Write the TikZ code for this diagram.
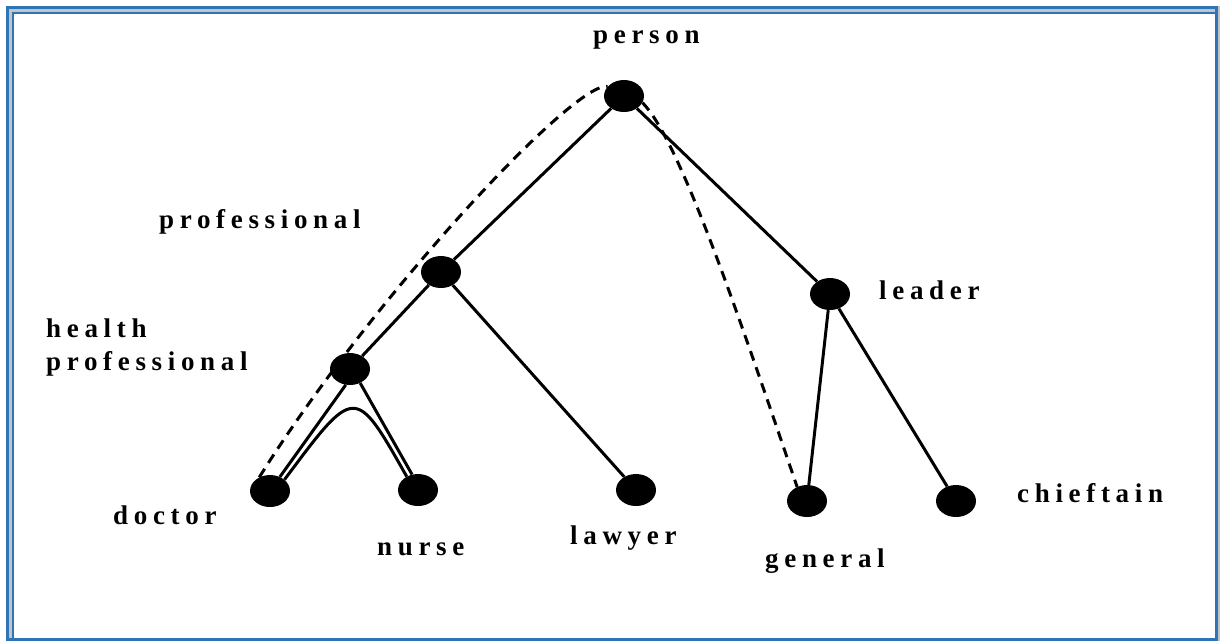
\documentclass[tikz,border=0pt]{standalone}
\usepackage{xcolor}
\usepackage{fontspec}
\usepackage{tikz}
\usetikzlibrary{shapes}
\setmainfont{Liberation Serif}
\newfontfamily\spacedfont[LetterSpace=21]{Liberation Serif}
\definecolor{frameblue}{RGB}{46,116,182}
\definecolor{frameshade}{RGB}{196,196,196}

\begin{document}
\begin{tikzpicture}[x=1pt, y=-1pt]
    \tikzstyle{concept} = [ellipse, fill=black, minimum width=40pt, minimum height=32pt, inner sep=0pt]
    \tikzstyle{isa} = [line width=3pt, black]
    \tikzstyle{chain} = [line width=3pt, black, dash pattern=on 10pt off 7pt]
    \tikzstyle{term} = [anchor=base west, inner sep=0pt, align=left, font=\spacedfont\bfseries\fontsize{27}{33}\selectfont]

    \useasboundingbox (0,0) rectangle (1220,641);
    % frame
    \fill[frameshade] (6,6) rectangle (1220,641);
    \fill[white] (14,14) rectangle (1215,638.5);
    \draw[frameblue, line width=3pt] (7.5,7.5) rectangle (1216.5,639.8);
    \draw[frameblue, line width=2.5pt] (12.8,639) -- (12.8,12.8) -- (1215.5,12.8);

    \node (person) [concept] at (624,96) {};
    \node (professional) [concept] at (441,272) {};
    \node (health) [concept] at (350,369) {};
    \node (doctor) [concept] at (270,491) {};
    \node (nurse) [concept] at (418,490) {};
    \node (lawyer) [concept] at (636,490) {};
    \node (leader) [concept] at (830,294) {};
    \node (general) [concept] at (807,501) {};
    \node (chieftain) [concept] at (956,501) {};

    \node (personlbl) [term] at (593,43) {person};
    \node (professionallbl) [term] at (159,228) {professional};
    \node (healthlbl) [term] at (46,370) {health\\professional};
    \node (doctorlbl) [term] at (113,524) {doctor};
    \node (nurselbl) [term] at (377,555) {nurse};
    \node (lawyerlbl) [term] at (570,544) {lawyer};
    \node (leaderlbl) [term] at (879,299) {leader};
    \node (generallbl) [term] at (765,567) {general};
    \node (chieftainlbl) [term] at (1017,502) {chieftain};

    \draw [isa] (person) -- (professional);
    \draw [isa] (person) -- (leader);
    \draw [isa] (professional) -- (health);
    \draw [isa] (professional) -- (lawyer);
    \draw [isa] (health.-105) -- (doctor.55);
    \draw [isa] (health.-54) -- (nurse.111);
    \draw [isa] (doctor.38) .. controls (355,385) and (355,385) .. (nurse.130);
    \draw [isa] (leader) -- (general);
    \draw [isa] (leader) -- (chieftain);

    % dashed chains
    \draw [chain] (doctor.128) .. controls (370,300) and (575,80) .. (person.150);
    \draw [chain] (person.-20) .. controls (680,140) and (740,320) .. (general.125);
\end{tikzpicture}
\end{document}
